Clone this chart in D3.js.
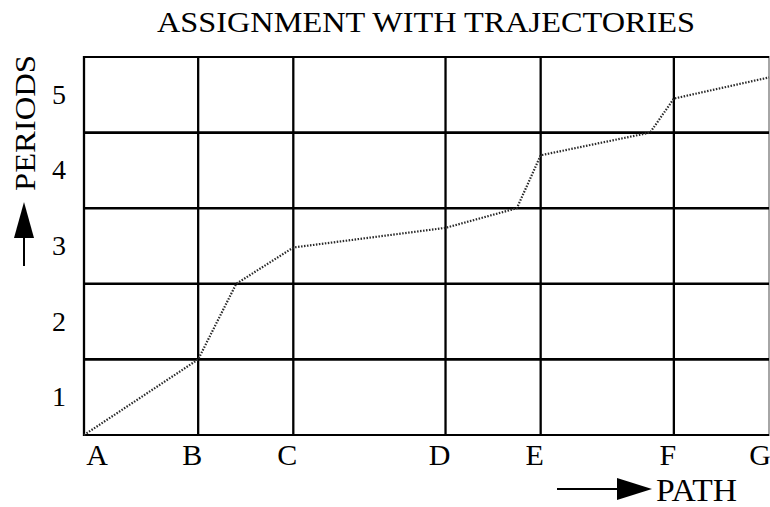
<!DOCTYPE html>
<html><head><meta charset="utf-8">
<script src="https://cdn.jsdelivr.net/npm/d3@7/dist/d3.min.js"></script>
<style>
html,body{margin:0;padding:0;background:#fff;}
text{font-family:"Liberation Serif","DejaVu Serif",serif;fill:#000;}
</style></head>
<body>
<svg id="chart" width="770" height="507"></svg>
<script>
// Path stops (category labels) and their distance along the path
const pathLabels = ["A","B","C","D","E","F","G"];
const pathDistance = [0, 1.2, 2.2, 3.8, 4.8, 6.2, 7.2];
// Period labels
const periodLabels = ["1","2","3","4","5"];
const periodBounds = [0,1,2,3,4,5];
// Trajectory (distance along path, period time)
const trajDistance = [0, 1.2, 1.6, 2.2, 3.8, 4.55, 4.8, 5.95, 6.2, 7.2];
const trajPeriod   = [0, 1.0, 2.0, 2.48, 2.74, 3.0, 3.7, 4.0, 4.45, 4.73];

const title = "ASSIGNMENT WITH TRAJECTORIES";
const yTitle = "PERIODS";
const xTitle = "PATH";

const svg = d3.select("#chart");
const m = {left:84, right:769, top:57, bottom:435};

const x = d3.scaleLinear().domain([0, 7.2]).range([m.left, m.right]);
const y = d3.scaleLinear().domain([0, 5]).range([m.bottom, m.top]);

// Title
svg.append("text").attr("x", 157).attr("y", 32)
  .attr("font-size", 30).attr("textLength", 538).attr("lengthAdjust","spacingAndGlyphs")
  .text(title);

// Grid: vertical lines at path stops
svg.append("g").selectAll("line").data(pathDistance).join("line")
  .attr("x1", d=>x(d)).attr("x2", d=>x(d))
  .attr("y1", y(0)+1).attr("y2", y(5)-1)
  .attr("stroke", (d,i)=> i===pathDistance.length-1 ? "#888" : "#000")
  .attr("stroke-width", (d,i)=> i===pathDistance.length-1 ? 1.5 : 2.3);

// Grid: horizontal lines at period bounds
svg.append("g").selectAll("line").data(periodBounds).join("line")
  .attr("x1", x(0)-1).attr("x2", x(7.2))
  .attr("y1", d=>y(d)).attr("y2", d=>y(d))
  .attr("stroke", "#000")
  .attr("stroke-width", (d,i)=> (i===0||i===periodBounds.length-1) ? 2.2 : 2.6);

// Trajectory (dotted)
const traj = trajDistance.map((d,i)=>[d, trajPeriod[i]]);
svg.append("path").datum(traj)
  .attr("d", d3.line().x(d=>x(d[0])).y(d=>y(d[1])))
  .attr("fill","none").attr("stroke","#2a2a2a").attr("stroke-width",2.2)
  .attr("stroke-dasharray","1.5,1.5");

// X axis labels
svg.append("g").selectAll("text").data(pathLabels).join("text")
  .attr("x", (d,i)=> {
    const px = x(pathDistance[i]);
    if (i===0) return px + 13;
    if (i===pathLabels.length-1) return px - 9;
    return px - 6;
  })
  .attr("y", 465).attr("text-anchor","middle").attr("font-size", 30)
  .text(d=>d);

// Y axis labels (centred in each period band)
svg.append("g").selectAll("text").data(periodLabels).join("text")
  .attr("x", 59).attr("y", (d,i)=> y(i+0.5) + 9)
  .attr("text-anchor","middle").attr("font-size", 28).text(d=>d);

// PERIODS title with arrow
svg.append("text").attr("transform","translate(35,123) rotate(-90)")
  .attr("text-anchor","middle").attr("font-size", 30)
  .attr("textLength", 136).attr("lengthAdjust","spacingAndGlyphs").text(yTitle);
svg.append("line").attr("x1",24).attr("x2",24).attr("y1",266).attr("y2",232)
  .attr("stroke","#000").attr("stroke-width",2);
svg.append("path").attr("d","M24,202 L14,238 L34,238 Z").attr("fill","#000");

// PATH title with arrow
svg.append("line").attr("x1",557).attr("x2",622).attr("y1",489).attr("y2",489)
  .attr("stroke","#000").attr("stroke-width",2);
svg.append("path").attr("d","M652,489 L617,478 L617,500 Z").attr("fill","#000");
svg.append("text").attr("x", 656).attr("y", 501).attr("font-size", 31)
  .attr("textLength", 81).attr("lengthAdjust","spacingAndGlyphs").text(xTitle);
</script>
</body></html>
